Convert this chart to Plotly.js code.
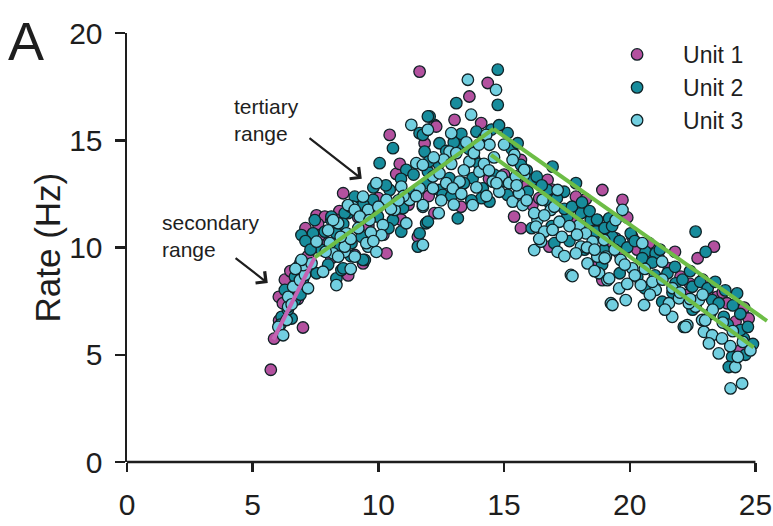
<!DOCTYPE html>
<html>
<head>
<meta charset="utf-8">
<script src="https://cdn.plot.ly/plotly-3.0.1.min.js"></script>
<style>
  html, body { margin: 0; padding: 0; background: #fff; }
  #chart { width: 773px; height: 526px; }
</style>
</head>
<body>
<div id="chart"></div>
<script>
// Firing rate (Hz) against stimulus value for three recorded units: [x, rate]
const unit1Points = [
  [5.72,4.3],[5.85,5.75],[6.05,6.6],[6.04,7.7],[6.28,8.5],[6.2,7.4],[6.6,8.1],[6.8,7.6],[7.0,6.27],[7.2,9.3],
  [7.4,10.0],[6.9,9.3],[7.2,9.6],[7.54,11.5],[7.87,11.44],[7.7,10.6],[8.13,9.5],[8.3,10.9],[8.45,11.7],[8.6,9.9],
  [8.8,8.7],[8.0,10.2],[8.3,11.3],[8.6,12.53],[9.06,9.65],[9.39,9.26],[9.6,11.0],[10.0,12.3],[10.32,9.73],[10.45,15.25],
  [10.71,13.43],[10.85,13.9],[10.9,11.3],[11.57,10.5],[11.64,18.2],[11.84,14.86],[12.0,12.4],[12.23,11.6],[12.23,15.72],[12.3,15.64],
  [12.8,13.0],[13.03,15.95],[13.29,11.9],[13.62,17.04],[13.8,14.2],[14.09,15.8],[14.35,17.67],[14.4,13.2],
  [15.0,13.4],[15.4,11.44],[15.67,14.08],[15.67,10.9],[15.9,12.9],[16.13,11.98],[16.4,12.3],[16.73,13.15],[16.8,10.04],[17.0,12.0],
  [17.7,11.2],[17.86,12.37],[18.25,12.25],[18.4,11.0],[18.71,11.28],[18.78,9.26],[18.91,12.68],[18.91,8.48],[19.05,10.82],[19.3,10.2],
  [19.44,10.43],[19.58,9.73],[19.71,12.22],[20.1,10.5],[20.3,9.9],[20.77,10.2],[20.9,9.6],[21.16,9.49],[21.56,9.03],[21.8,9.8],
  [22.02,8.64],[22.22,7.78],[22.4,8.3],[22.7,9.5],[22.9,8.5],[23.08,7.94],[23.35,10.04],[23.48,7.7],[23.7,7.9],[23.87,7.4],
  [24.21,6.54],[24.4,5.21],[24.55,7.2],[24.73,6.69],
  [6.5,8.9],[7.1,10.9],[7.6,11.1],[9.2,11.4],[10.2,10.6],[11.2,12.0],[16.9,12.7],[19.9,11.4]
];

const unit2Points = [
  [6.15,6.77],[6.55,6.69],[6.28,8.02],[6.68,7.55],[6.68,8.64],[6.94,8.25],[6.81,9.1],[7.21,8.95],[7.54,8.8],[8.33,8.56],
  [8.53,8.95],[6.94,10.58],[7.4,10.66],[8.13,11.28],[7.1,10.3],[7.87,10.74],[7.74,9.88],[8.4,10.04],[8.93,10.2],[9.46,9.42],
  [9.33,10.5],[7.47,11.28],[8.79,11.6],[9.19,12.06],[6.1,6.4],
  [10.05,13.93],[10.58,14.63],[11.64,15.33],[12.04,16.11],[11.84,14.47],[12.43,14.86],[11.11,13.62],[10.45,12.68],[9.79,12.22],[9.06,12.37],
  [8.66,11.6],[9.52,11.75],[9.98,11.44],[10.58,11.28],[10.98,11.83],[11.37,12.53],[11.9,13.0],[12.43,12.68],[11.9,11.13],[10.91,10.74],
  [11.57,10.04],[9.79,10.5],[9.39,9.42],[8.33,10.66],[8.6,9.03],[8.13,11.44],
  [14.75,18.29],[14.75,16.65],[13.1,16.73],[11.97,16.11],[11.77,15.25],[13.23,14.79],[15.14,15.33],[15.67,13.85],[13.75,13.23],[12.83,13.23],
  [11.97,13.54],[12.56,12.45],[14.15,12.76],[15.14,12.45],[14.42,12.14],[13.16,11.36],[11.97,11.2],[11.64,10.66],
  [12.7,14.5],[13.0,14.9],[13.3,15.3],[13.6,14.6],[13.9,15.4],[14.2,15.1],[14.5,15.5],[14.0,13.9],[13.4,13.0],[12.9,12.4],
  [12.4,13.9],[12.0,14.0],[11.4,13.4],[10.9,13.2],[10.3,12.9],[9.8,12.8],[9.4,12.0],[8.9,11.9],[8.6,11.1],[14.8,15.7],
  [15.3,14.6],[15.0,13.1],[14.6,13.4],[14.1,12.3],[13.7,12.2],
  [15.54,14.86],[16.13,13.15],[15.94,12.6],[16.93,13.77],[16.73,12.68],[17.39,12.6],[17.86,13.0],[17.52,11.44],[17.0,10.2],[18.06,11.6],
  [18.45,11.28],[18.65,10.74],[18.98,9.88],[19.18,11.36],[22.62,10.74],[20.04,10.66],[19.31,10.5],[20.63,9.8],[21.03,9.73],[21.82,8.33],
  [20.3,8.64],[21.29,7.47],[22.15,6.3],[22.49,8.17],[23.02,9.8],[24.27,7.86],[23.28,7.55],[23.54,7.4],[23.74,6.77],[24.54,5.76],
  [24.4,6.15],[24.07,4.9],[23.94,4.43],
  [15.9,13.6],[16.3,13.3],[16.5,12.9],[16.8,12.1],[17.1,12.3],[17.4,11.8],[17.7,11.9],[18.1,12.1],[18.4,11.7],[18.7,11.3],
  [19.0,10.9],[19.3,11.0],[19.6,10.3],[19.9,10.0],[20.2,10.3],[20.5,9.5],[20.9,9.3],[21.2,9.9],[21.5,8.8],[21.8,9.1],
  [22.1,8.5],[22.4,8.9],[22.8,8.4],[23.1,8.1],[23.4,8.4],[23.8,8.0],[24.1,7.3],[24.4,6.9],[24.7,6.3],[24.9,5.5],
  [16.1,10.9],[16.9,11.0],[17.6,10.3],[18.2,9.9],[18.9,9.2],[19.6,8.8],[20.6,8.1],[21.0,8.7],[21.7,7.9],[22.5,7.1],
  [23.2,6.9],[23.9,6.4],[24.6,5.0],
  [6.4,7.1],[6.9,7.8],[7.3,9.9],[7.0,8.5],[8.0,9.2],[8.9,9.6],[10.4,10.9]
];

const unit3Points = [
  [6.35,6.62],[6.41,7.24],[6.41,7.7],[6.61,8.17],[6.88,8.48],[7.08,8.72],[7.01,9.18],[7.34,9.26],[7.8,8.87],[8.33,8.25],
  [6.02,6.3],[6.21,5.91],[6.94,9.42],[7.54,10.27],[8.07,10.2],[8.2,9.73],[8.66,9.8],[9.06,9.57],[9.59,10.04],[8.73,10.66],
  [8.4,11.13],[8.99,11.9],[9.59,11.75],
  [9.92,13.0],[11.31,15.72],[11.97,15.49],[11.51,13.93],[10.91,12.84],[10.32,12.22],[9.39,12.37],[8.79,11.98],[9.06,11.75],[9.26,11.44],
  [9.65,11.28],[10.18,11.05],[10.65,11.75],[11.24,12.22],[11.64,12.76],[12.17,13.31],[12.7,13.0],[11.77,11.9],[11.11,11.13],[11.77,10.12],
  [10.12,10.58],[9.52,10.2],[8.66,10.04],[8.4,9.57],[8.2,11.28],[9.92,9.8],
  [13.56,17.82],[14.68,17.35],[13.69,16.19],[12.9,15.33],[12.83,14.47],[14.29,15.25],[14.42,14.79],[15.41,14.32],[15.8,13.38],[13.62,14.01],
  [14.02,13.54],[13.23,13.07],[12.43,13.46],[11.77,13.85],[12.17,12.76],[12.96,12.76],[14.55,13.07],[14.81,12.6],[15.34,12.14],[15.6,12.53],
  [13.75,11.98],[11.77,11.98],
  [12.6,14.1],[12.9,13.9],[13.1,14.4],[13.4,13.6],[13.5,14.9],[13.8,14.4],[14.0,14.8],[14.2,13.9],[14.4,13.6],[14.6,14.2],
  [14.9,13.3],[13.3,12.5],[13.9,12.8],[14.7,13.0],[12.5,12.2],[13.0,12.0],[14.3,12.4],[15.0,14.8],[15.2,13.0],[12.2,14.2],
  [11.5,12.4],[11.0,12.4],[10.5,11.8],[10.0,11.9],[9.7,10.7],[9.2,10.9],[8.9,10.4],[8.5,10.5],[8.0,10.8],
  [15.34,14.08],[15.8,13.62],[15.47,13.31],[16.53,12.22],[17.13,12.68],[16.86,11.75],[17.2,11.2],[16.33,11.28],[15.74,11.98],[16.27,10.97],
  [16.6,10.74],[16.93,10.82],[17.13,9.8],[16.2,9.88],[16.47,10.27],[18.0,11.05],[18.25,10.66],[18.52,10.27],[18.06,10.04],[17.86,9.73],
  [18.32,9.26],[18.71,9.57],[18.78,8.8],[19.11,8.48],[17.66,8.72],[19.25,7.4],[19.71,11.75],[19.44,11.28],[18.98,10.35],[20.5,10.2],
  [21.29,9.34],[19.05,9.57],[19.64,9.42],[20.1,9.03],[20.44,8.25],[19.58,8.09],[19.18,8.56],[21.03,8.02],[21.56,7.4],[21.96,7.63],
  [21.69,6.77],[22.29,6.38],[19.31,7.32],[19.84,7.55],[20.57,7.32],[22.62,7.24],[22.75,7.55],[22.88,6.62],[22.22,6.3],[22.95,6.07],
  [23.28,5.91],[23.67,5.76],[23.54,5.06],[24.2,4.43],[24.47,3.66],[24.01,3.43],[22.35,7.4],[17.72,8.67],[23.15,5.53],
  [15.5,12.9],[15.9,12.2],[16.2,11.6],[16.6,11.5],[17.0,11.9],[17.3,10.5],[17.6,11.0],[17.9,10.6],[18.3,10.0],[18.6,9.9],
  [19.0,9.5],[19.4,9.9],[19.8,9.2],[20.2,8.7],[20.6,9.0],[20.9,8.4],[21.3,8.5],[21.7,8.1],[22.0,7.9],[22.4,7.6],
  [22.9,7.8],[23.3,7.1],[23.7,6.5],[24.1,6.1],[24.5,5.6],[24.8,5.2],[24.3,4.9],[16.4,10.4],[17.4,9.6],[18.6,8.9],
  [19.9,8.3],[20.8,7.8],[21.4,7.1],[23.0,6.6],[24.0,5.4],
  [6.7,9.0],[7.2,8.1],[6.55,7.35],[7.9,9.8],[8.9,9.0],[9.8,10.3],[10.8,12.2],[12.4,11.6]
];

// Piecewise fits: secondary range, tertiary rise, and the two falling limbs
const secondaryFitX = [5.82, 7.47];
const secondaryFitY = [5.71, 9.54];
const tertiaryRiseX = [7.47, 14.58];
const tertiaryRiseY = [9.54, 15.53];
const fallUpperX = [14.58, 25.46];
const fallUpperY = [15.53, 6.58];
const fallLowerX = [14.48, 24.93];
const fallLowerY = [14.32, 5.34];

const unitNames = ['Unit 1', 'Unit 2', 'Unit 3'];
const unitColors = ['#B3519F', '#178C9C', '#72CFE0'];
const xTicks = [0, 5, 10, 15, 20, 25];
const yTicks = [0, 5, 10, 15, 20];

const FONT = 'Arial, "Liberation Sans", Helvetica, sans-serif';
const INK = '#1e1e1e';
const X_MAX = 25.5;   // a little room past 25 so the upper fit line can run out

const unitTraces = [unit1Points, unit2Points, unit3Points].map((pts, i) => ({
  type: 'scatter',
  mode: 'markers',
  name: unitNames[i],
  x: pts.map(p => p[0]),
  y: pts.map(p => p[1]),
  cliponaxis: false,
  marker: {
    size: 11.5,
    color: unitColors[i],
    line: { color: '#102226', width: 1.3 }
  }
}));

function fitLine(x, y, color) {
  return {
    type: 'scatter', mode: 'lines', x: x, y: y, showlegend: false,
    hoverinfo: 'skip',
    line: { color: color, width: 4 }
  };
}

const traces = unitTraces.concat([
  fitLine(secondaryFitX, secondaryFitY, '#C463B3'),
  fitLine(tertiaryRiseX, tertiaryRiseY, '#6DBD46'),
  fitLine(fallUpperX, fallUpperY, '#6DBD46'),
  fitLine(fallLowerX, fallLowerY, '#6DBD46')
]);

const layout = {
  width: 773,
  height: 526,
  margin: { l: 127, r: 5, t: 33, b: 64 },
  paper_bgcolor: '#fff',
  plot_bgcolor: '#fff',
  font: { family: FONT, color: INK },
  showlegend: true,
  legend: {
    x: 0.724, y: 1.0, xanchor: 'left', yanchor: 'top',
    bgcolor: 'rgba(0,0,0,0)',
    font: { size: 23, family: FONT, color: INK },
    itemwidth: 82,
    tracegroupgap: 0
  },
  xaxis: {
    range: [0, X_MAX],
    showgrid: false, zeroline: false, showline: false,
    tickmode: 'array', tickvals: xTicks,
    ticks: 'outside', ticklen: 9, tickwidth: 2.5, tickcolor: INK,
    ticklabelstandoff: 7,
    tickfont: { size: 30, family: FONT, color: INK }
  },
  yaxis: {
    range: [0, 20],
    showgrid: false, zeroline: false,
    showline: true, linewidth: 2.5, linecolor: INK,
    tickmode: 'array', tickvals: yTicks,
    ticks: 'outside', ticklen: 10, tickwidth: 2.5, tickcolor: INK,
    ticklabelstandoff: 6,
    tickfont: { size: 30, family: FONT, color: INK }
  },
  shapes: [
    // x axis baseline, stopping at the last tick
    { type: 'line', xref: 'paper', yref: 'paper', x0: 0, x1: 25 / X_MAX, y0: 0, y1: 0,
      line: { color: INK, width: 2.5 } }
  ],
  annotations: [
    { xref: 'paper', yref: 'paper', x: 0, y: 1, xanchor: 'left', yanchor: 'middle',
      xshift: -121, yshift: -8, showarrow: false, text: 'A',
      font: { size: 54, family: FONT, color: INK } },
    { xref: 'paper', yref: 'paper', x: 0, y: 0.5, xanchor: 'center', yanchor: 'middle',
      xshift: -80, showarrow: false, text: 'Rate (Hz)', textangle: -90,
      font: { size: 35, family: FONT, color: INK } },
    { xref: 'x', yref: 'y', x: 4.18, y: 15.95, xanchor: 'left', yanchor: 'middle', align: 'left',
      showarrow: false, text: 'tertiary<br>range',
      font: { size: 21, family: FONT, color: INK } },
    { xref: 'x', yref: 'y', x: 1.32, y: 10.54, xanchor: 'left', yanchor: 'middle', align: 'left',
      showarrow: false, text: 'secondary<br>range',
      font: { size: 21, family: FONT, color: INK } },
    { xref: 'x', yref: 'y', x: 9.34, y: 13.2, axref: 'x', ayref: 'y', ax: 7.2, ay: 15.15,
      text: '', showarrow: true, arrowhead: 4, arrowsize: 1.3, arrowwidth: 2.2, arrowcolor: INK },
    { xref: 'x', yref: 'y', x: 5.6, y: 8.34, axref: 'x', ayref: 'y', ax: 4.26, ay: 9.56,
      text: '', showarrow: true, arrowhead: 4, arrowsize: 1.3, arrowwidth: 2.2, arrowcolor: INK }
  ]
};

Plotly.newPlot('chart', traces, layout, { staticPlot: true, displayModeBar: false });
</script>
</body>
</html>
